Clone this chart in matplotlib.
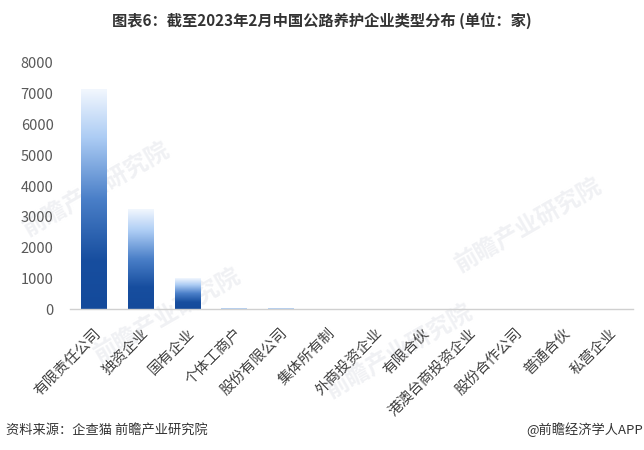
#!/usr/bin/env python3
# coding=utf-8

import matplotlib
matplotlib.use('Agg')
import matplotlib.pyplot as plt
from matplotlib.colors import LinearSegmentedColormap
import numpy as np

plt.rcParams['font.family'] = ['Noto Sans CJK SC', 'DejaVu Sans']

# data (unit: companies)
categories = ['有限责任公司', '独资企业', '国有企业', '个体工商户', '股份有限公司',
              '集体所有制', '外商投资企业', '有限合伙', '港澳台商投资企业',
              '股份合作公司', '普通合伙', '私营企业']
counts = [7150, 3240, 1000, 40, 40, 0, 0, 0, 0, 0, 0, 0]
y_ticks = [0, 1000, 2000, 3000, 4000, 5000, 6000, 7000, 8000]

title = '图表6：截至2023年2月中国公路养护企业类型分布 (单位：家)'
source = '资料来源：企查猫 前瞻产业研究院'
credit = '@前瞻经济学人APP'

# bar fill goes dark blue at the foot to almost white at the top
bar_cmap = LinearSegmentedColormap.from_list(
    'bar', [(0.0, '#144a9b'), (0.22, '#174e9f'), (0.5, '#4a7fc8'),
            (0.78, '#acccf4'), (1.0, '#f2f7fe')])


def draw_gradient_bars(ax, values, width=0.55):
    grad = np.linspace(0, 1, 256).reshape(-1, 1)
    for i, v in enumerate(values):
        if v <= 0:
            continue
        if v < 200:
            # too thin for a visible gradient, the reference shows it pale
            ax.bar(i, v, width=width, color='#b3cff3', zorder=2)
            continue
        ax.imshow(grad, cmap=bar_cmap, origin='lower', aspect='auto',
                  extent=(i - width / 2, i + width / 2, 0, v), zorder=2)


fig = plt.figure(figsize=(6.44, 4.5), dpi=100)

# faint watermarks behind everything
for (wx, wy) in [(0.03, 0.58), (0.14, 0.30), (0.50, 0.22), (0.70, 0.50)]:
    fig.text(wx, wy, '前瞻产业研究院', fontsize=17, fontweight='bold',
             color='#f0f1f4', rotation=30, ha='left', va='center', zorder=-5)

ax = fig.add_axes([0.109, 0.313, 0.874, 0.547])
ax.patch.set_alpha(0)

draw_gradient_bars(ax, counts)

ax.set_xlim(-0.5, len(categories) - 0.5)
ax.set_ylim(0, 8000)
ax.set_yticks(y_ticks)
ax.set_yticklabels([str(t) for t in y_ticks], color='#595959', fontsize=10.5)
ax.set_xticks(range(len(categories)))
ax.set_xticklabels(categories, rotation=45, ha='right', rotation_mode='anchor',
                   color='#404040', fontsize=10.5)
ax.tick_params(axis='both', length=0)
ax.tick_params(axis='y', pad=12)
ax.tick_params(axis='x', pad=12)

for side in ['top', 'right', 'left']:
    ax.spines[side].set_visible(False)
ax.spines['bottom'].set_color('#d0d0d0')
ax.spines['bottom'].set_linewidth(1)

fig.text(0.5, 0.955, title, ha='center', va='center', fontsize=11,
         fontweight='bold', color='#333333')
fig.text(0.01, 0.045, source, ha='left', va='center', fontsize=9.5,
         color='#333333')
fig.text(0.998, 0.045, credit, ha='right', va='center', fontsize=9.5,
         color='#333333')

fig.savefig('out.png', dpi=100)
